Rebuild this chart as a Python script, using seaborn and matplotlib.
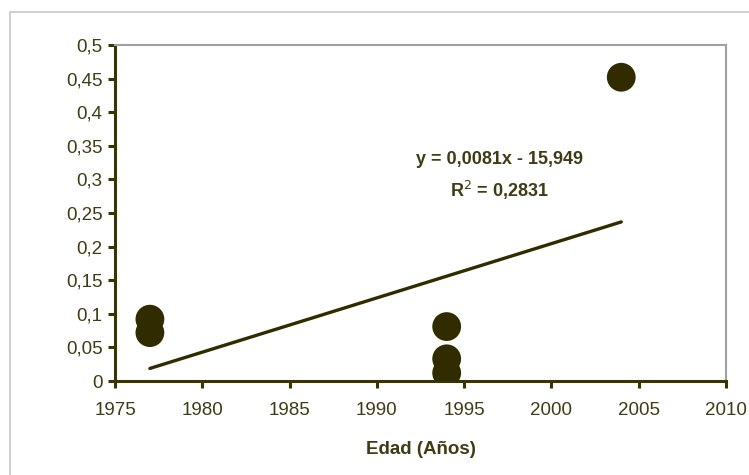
import matplotlib
matplotlib.use("Agg")
import matplotlib.pyplot as plt
import seaborn as sns
import numpy as np
import pandas as pd
from matplotlib.patches import Rectangle
from matplotlib.ticker import FuncFormatter

# Sample years and measured values
years = [1977, 1977, 1994, 1994, 1994, 2004]
values = [0.092, 0.072, 0.081, 0.033, 0.012, 0.452]

x_ticks = [1975, 1980, 1985, 1990, 1995, 2000, 2005, 2010]
y_ticks = [0, 0.05, 0.1, 0.15, 0.2, 0.25, 0.3, 0.35, 0.4, 0.45, 0.5]

equation_label = "y = 0,0081x - 15,949"
r2_label = "R$^{2}$ = 0,2831"
x_label = "Edad (Años)"

df = pd.DataFrame({"year": years, "value": values})

sns.set_theme(style="white")
plt.rcParams["font.family"] = ["Liberation Sans Narrow", "Liberation Sans", "DejaVu Sans"]

text_col = "#3f3b14"
axis_col = "#3a3500"
mark_col = "#302c00"

fig = plt.figure(figsize=(7.49, 4.75), dpi=100)
fig.patch.set_facecolor("white")

# Outer chart frame
fig.patches.append(Rectangle((9.5 / 749, -0.01), 1.02, (475 - 12) / 475 + 0.01,
                             transform=fig.transFigure, fill=False,
                             edgecolor="#c8c8c8", linewidth=1.2))

ax = fig.add_axes([115 / 749, (475 - 381) / 475, (726 - 115) / 749, (381 - 45) / 475])

sns.scatterplot(data=df, x="year", y="value", ax=ax, s=430, color=mark_col,
                edgecolor="none", zorder=3, legend=False)

# Least-squares trend line across the data range
coef = np.polyfit(df["year"], df["value"], 1)
xl = np.array([min(years), max(years)])
ax.plot(xl, np.polyval(coef, xl), color=mark_col, linewidth=2.4, zorder=2)

ax.set_xlim(1975, 2010)
ax.set_ylim(0, 0.5)
ax.set_xticks(x_ticks)
ax.set_yticks(y_ticks)
ax.yaxis.set_major_formatter(FuncFormatter(lambda v, p: ("%g" % v).replace(".", ",")))

for side in ["top", "right"]:
    ax.spines[side].set_color("#a0a0a0")
    ax.spines[side].set_linewidth(1.5)
for side in ["left", "bottom"]:
    ax.spines[side].set_color(axis_col)
    ax.spines[side].set_linewidth(2.2)

ax.tick_params(axis="both", direction="out", length=5, width=2.2, color=axis_col,
               labelcolor=text_col, labelsize=13.5, pad=4)
ax.tick_params(axis="x", pad=10)
ax.tick_params(left=True, bottom=True)

ax.set_xlabel(x_label, fontsize=13.5, fontweight="bold", color=text_col, labelpad=16)
ax.set_ylabel("")

ax.text(1997.0, 0.329, equation_label, ha="center", va="center", fontsize=13,
        fontweight="bold", color=text_col)
ax.text(1997.0, 0.284, r2_label, ha="center", va="center", fontsize=13,
        fontweight="bold", color=text_col)

fig.savefig("out.png", dpi=100, facecolor="white")
